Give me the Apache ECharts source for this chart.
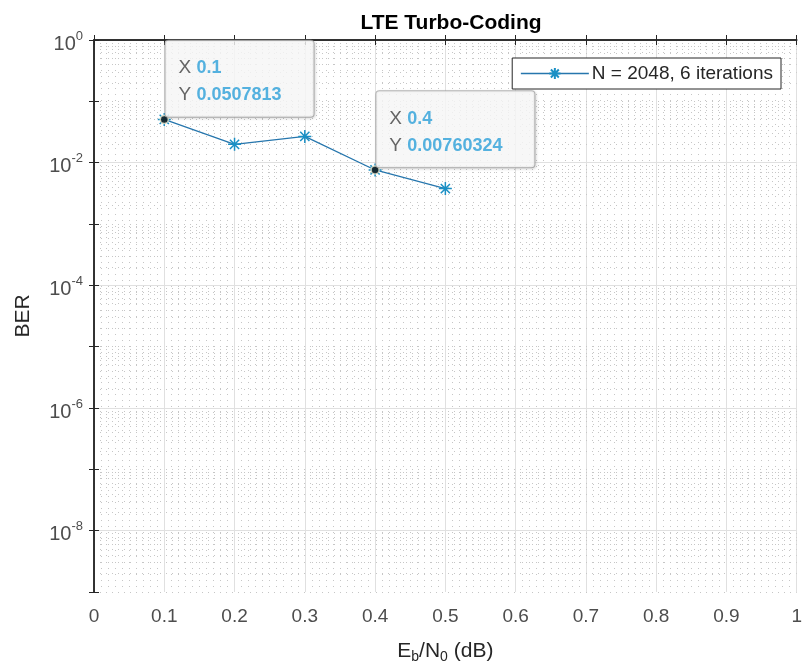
<!DOCTYPE html>
<html>
<head>
<meta charset="utf-8">
<script src="https://cdn.jsdelivr.net/npm/echarts@6/dist/echarts.min.js"></script>
<style>html,body{margin:0;padding:0;background:#fff;}#c{width:805px;height:672px;}</style>
</head>
<body>
<div id="c"></div>
<script>
// ---- data ----
const ebn0 = [0.1, 0.2, 0.3, 0.4, 0.5];
const ber = [0.0507813, 0.0199, 0.0268, 0.00760324, 0.00378];
const seriesName = 'N = 2048, 6 iterations';
const tipX = [0.1, 0.4];
const tipY = [0.0507813, 0.00760324];
const tipXText = ['0.1', '0.4'];
const tipYText = ['0.0507813', '0.00760324'];
const xTickLabels = ['0','0.1','0.2','0.3','0.4','0.5','0.6','0.7','0.8','0.9','1'];
const yLabelExps = [0, -2, -4, -6, -8];
const yMinExp = -9, yMaxExp = 0;

const FONT = '"Liberation Sans", Arial, Helvetica, sans-serif';
const lineColor = '#2676ad';
const asterisk = 'path://M0,-10L0,10M-10,0L10,0M-7.07,-7.07L7.07,7.07M-7.07,7.07L7.07,-7.07';
const minorStyle = {type: [1, 5], color: '#c6c6c6', width: 1};
const majorColor = '#e0e0e0';

// grid lines (positions through the axes via markLine)
const gridLines = [];
for (let e = yMinExp; e <= yMaxExp; e++) {
  if (yLabelExps.indexOf(e) >= 0) {
    gridLines.push({yAxis: e, lineStyle: {type: 'solid', color: majorColor, width: 1}});
  } else {
    gridLines.push({yAxis: e, lineStyle: minorStyle});
  }
  if (e < yMaxExp) {
    for (let k = 2; k <= 9; k++) {
      gridLines.push({yAxis: e + Math.log10(k), lineStyle: minorStyle});
    }
  }
}

const chart = echarts.init(document.getElementById('c'), null, {renderer: 'canvas'});
const option = {
  backgroundColor: '#ffffff',
  animation: false,
  title: {
    text: 'LTE Turbo-Coding',
    left: 446, top: 8, textAlign: 'center',
    textStyle: {fontFamily: FONT, fontSize: 21, fontWeight: 'bold', color: '#000'}
  },
  legend: {
    right: 24, top: 58,
    orient: 'vertical',
    backgroundColor: '#fff',
    borderColor: '#262626', borderWidth: 1,
    padding: [6, 8, 6, 8],
    itemWidth: 68, itemHeight: 14,
    lineStyle: {type: 'solid', width: 1.3, color: lineColor},
    textStyle: {fontFamily: FONT, fontSize: 19, color: '#262626', padding: [0, 0, 0, -2]},
    data: [seriesName]
  },
  grid: {left: 94, top: 40, right: 6, bottom: 80, containLabel: false},
  xAxis: [{
    type: 'value', min: 0, max: 1, interval: 0.1, position: 'bottom',
    name: 'E{sub|b}/N{sub|0} (dB)', nameLocation: 'middle', nameGap: 46,
    nameTextStyle: {fontFamily: FONT, fontSize: 21, color: '#262626',
      rich: {sub: {fontFamily: FONT, fontSize: 14, color: '#262626', padding: [12, 0, 0, 0]}}},
    axisLine: {show: true, lineStyle: {color: '#262626', width: 1.5}},
    axisTick: {show: true, inside: true, length: 5, lineStyle: {color: '#262626'}},
    axisLabel: {fontFamily: FONT, fontSize: 19, color: '#4d4d4d', margin: 15,
      formatter: function (v) { return xTickLabels[Math.round(v * 10)]; }},
    splitLine: {show: true, lineStyle: {color: majorColor, width: 1}},
    minorTick: {show: false, splitNumber: 10},
    minorSplitLine: {show: true, lineStyle: minorStyle}
  }, {
    type: 'value', min: 0, max: 1, interval: 0.1, position: 'top',
    axisLine: {show: true, lineStyle: {color: '#262626', width: 1.5}},
    axisTick: {show: true, inside: true, length: 5, lineStyle: {color: '#262626'}},
    axisLabel: {show: false}, splitLine: {show: false}
  }],
  yAxis: [{
    type: 'value', min: yMinExp, max: yMaxExp, interval: 1, position: 'left',
    name: 'BER', nameLocation: 'middle', nameGap: 60,
    nameTextStyle: {fontFamily: FONT, fontSize: 21, color: '#262626'},
    axisLine: {show: true, lineStyle: {color: '#262626', width: 1.5}},
    axisTick: {show: true, inside: true, length: 5, lineStyle: {color: '#262626'}},
    axisLabel: {
      margin: 11,
      formatter: function (v) {
        const e = Math.round(v);
        if (yLabelExps.indexOf(e) < 0) return '';
        return '{b|10}{s|' + e + '}';
      },
      rich: {
        b: {fontFamily: FONT, fontSize: 20, color: '#4d4d4d', padding: [8, 0, 0, 0]},
        s: {fontFamily: FONT, fontSize: 13, color: '#4d4d4d', padding: [0, 0, 8, 0]}
      }
    },
    splitLine: {show: false}
  }, {
    type: 'value', min: yMinExp, max: yMaxExp, interval: 1, position: 'right',
    axisLine: {show: true, lineStyle: {color: '#262626', width: 1.5}},
    axisTick: {show: true, inside: true, length: 5, lineStyle: {color: '#262626'}},
    axisLabel: {show: false}, splitLine: {show: false}
  }],
  series: [{
    name: 'gridhelper', type: 'line', data: [], z: 0, zlevel: 0, silent: true,
    markLine: {silent: true, symbol: ['none', 'none'], label: {show: false},
      animation: false, z: 0, data: gridLines}
  }, {
    name: seriesName, type: 'line', z: 3,
    data: ebn0.map(function (x, i) { return [x, Math.log10(ber[i])]; }),
    symbol: asterisk, symbolSize: 13,
    lineStyle: {color: lineColor, width: 1.3, type: 'solid'},
    itemStyle: {color: lineColor, borderColor: '#1a8fc4', borderWidth: 1.5}
  }, {
    name: 'tips', type: 'scatter', z: 5,
    data: tipX.map(function (x, i) { return [x, Math.log10(tipY[i])]; }),
    symbol: 'circle', symbolSize: 8,
    itemStyle: {color: '#111', borderColor: '#e8e8d0', borderWidth: 1.5},
    label: {
      show: true,
      position: [6, 2],
      align: 'left', verticalAlign: 'bottom',
      formatter: function (p) {
        const i = p.dataIndex;
        return '{k|X}{v|' + tipXText[i] + '}\n{k|Y}{v|' + tipYText[i] + '}';
      },
      backgroundColor: '#fdfdfd',
      borderColor: '#a8a8a8', borderWidth: 1, borderRadius: 3,
      padding: [14, 32, 8, 13],
      shadowColor: 'rgba(0,0,0,0.15)', shadowBlur: 3, shadowOffsetX: 1, shadowOffsetY: 1,
      rich: {
        k: {fontFamily: FONT, fontSize: 19, color: '#404040', lineHeight: 27, width: 18},
        v: {fontFamily: FONT, fontSize: 18, fontWeight: 'bold', color: '#2a9fd8', lineHeight: 27}
      }
    }
  }]
};
chart.setOption(option);
</script>
</body>
</html>
